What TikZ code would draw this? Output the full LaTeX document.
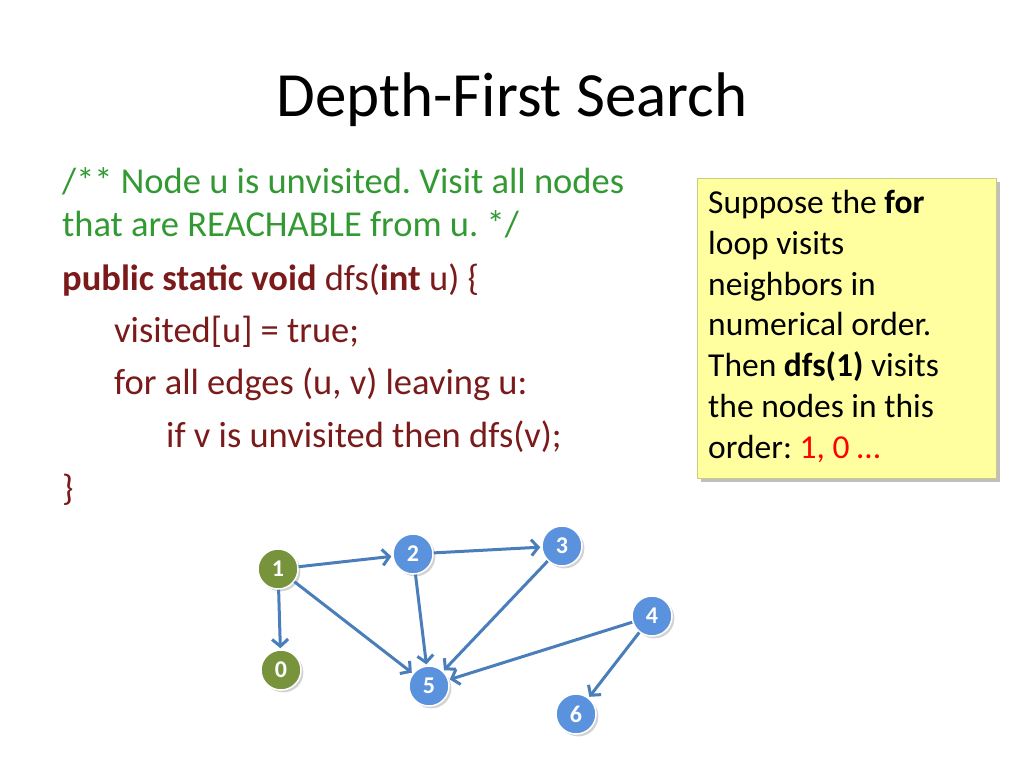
\documentclass[tikz,border=0pt]{standalone}
\usepackage{fontspec}
\setmainfont{Carlito}
\frenchspacing
\usetikzlibrary{positioning,shadows,arrows.meta}
\definecolor{cmtgreen}{RGB}{51,153,51}
\definecolor{codered}{RGB}{122,26,26}
\definecolor{notefill}{RGB}{255,255,160}
\definecolor{bluenode}{RGB}{91,146,222}
\definecolor{greennode}{RGB}{119,147,60}
\definecolor{edgeblue}{RGB}{74,126,187}
\begin{document}
\begin{tikzpicture}[x=1pt,y=-1pt,
  codeline/.style={anchor=base west,inner sep=0pt,text=codered,font=\fontsize{36.5}{40}\selectfont},
  vtx/.style={circle,minimum size=40pt,inner sep=0pt,draw=white,line width=1.5pt,
    text=white,font=\fontsize{24}{24}\selectfont\bfseries,drop shadow={opacity=0.35}},
  bvtx/.style={vtx,fill=bluenode},
  gvtx/.style={vtx,fill=greennode},
  edge/.style={-{Straight Barb[length=7pt,width=16pt,line width=3pt]},draw=edgeblue,line width=3pt,shorten >=1pt}]
\useasboundingbox (0,0) rectangle (1024,768);
\node[anchor=base,font=\fontsize{63}{70}\selectfont] (title) at (512,116) {Depth-First Search};
% code
\node[codeline,text=cmtgreen] (c1) at (62,193) {/** Node u is unvisited. Visit all nodes};
\node[codeline,text=cmtgreen] (c2) at (62,236) {that are REACHABLE from u. */};
\node[codeline] (c3) at (62,290) {\textbf{public static void} dfs(\textbf{int} u) \{};
\node[codeline] (c4) at (114,342) {visited[u] = true;};
\node[codeline] (c5) at (114,394) {for all edges (u, v) leaving u:};
\node[codeline] (c6) at (166,447) {if v is unvisited then dfs(v);};
\node[codeline] (c7) at (62,500) {\}};
% note
\node[fill=notefill,draw=notefill!80!black,line width=0.4pt,drop shadow={shadow xshift=4pt,shadow yshift=-4pt,opacity=0.5},
  minimum width=299pt,minimum height=300pt,anchor=north west,inner sep=0pt] (note) at (697,178) {};
\node[anchor=north west,align=left,inner sep=0pt,font=\fontsize{33.5}{40.8}\selectfont] (notetext) at (708,190)
  {Suppose the \textbf{for}\\loop visits\\neighbors in\\numerical order.\\Then \textbf{dfs(1)} visits\\the nodes in this\\order: \textcolor{red}{1, 0 …}};
% graph
\node[gvtx] (n1) at (278,569) {1};
\node[gvtx] (n0) at (281,670) {0};
\node[bvtx] (n2) at (413,554) {2};
\node[bvtx] (n3) at (562,546) {3};
\node[bvtx] (n4) at (652,616) {4};
\node[bvtx] (n5) at (429,686) {5};
\node[bvtx] (n6) at (576,714) {6};
\draw[edge] (n1) -- (n2);
\draw[edge] (n2) -- (n3);
\draw[edge] (n1) -- (n0);
\draw[edge] (n1) -- (n5);
\draw[edge] (n2) -- (n5);
\draw[edge] (n3) -- (n5);
\draw[edge] (n4) -- (n5);
\draw[edge] (n4) -- (n6);
\end{tikzpicture}
\end{document}
